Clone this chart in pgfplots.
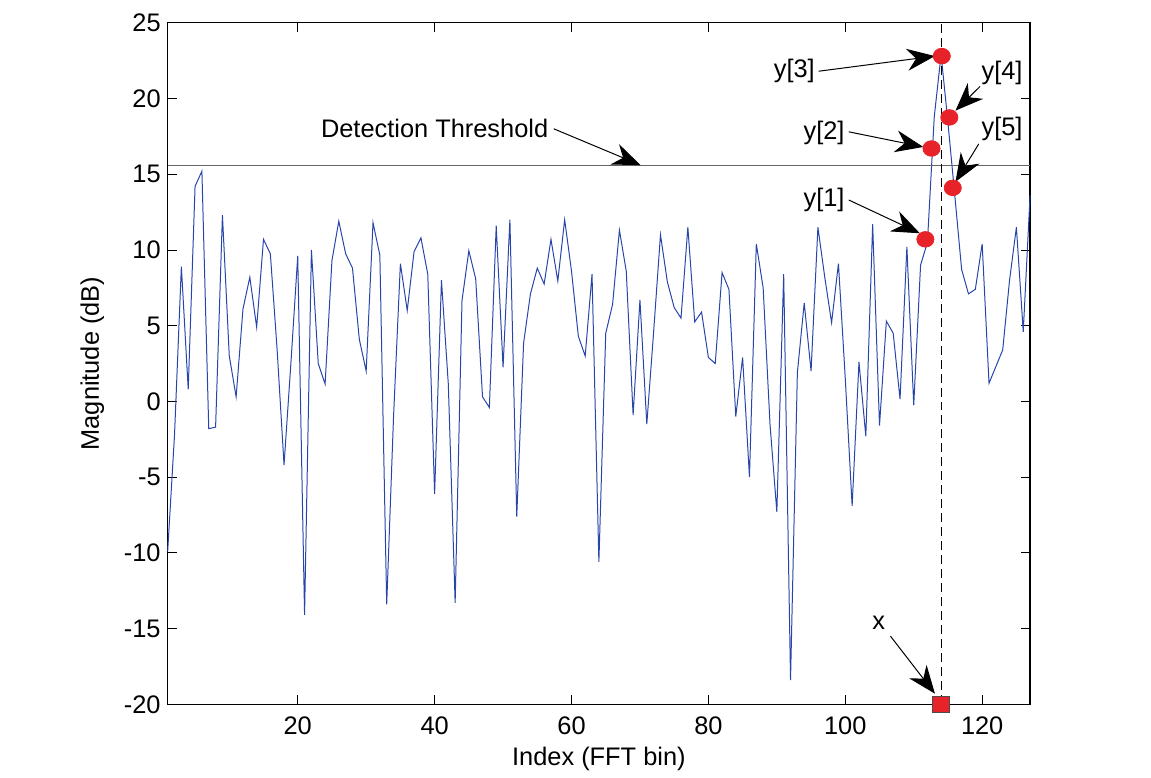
\documentclass[border=0pt]{standalone}
\usepackage{fontspec}
\setmainfont{Liberation Sans}
\usepackage{pgfplots}
\pgfplotsset{compat=1.18}
\usetikzlibrary{arrows.meta}
\definecolor{lineblue}{RGB}{40,70,170}
\definecolor{dotred}{RGB}{232,34,41}
\pgfplotstableread{
x y
1 -9.9
2 -2.2
3 8.9
4 0.8
5 14.2
6 15.2
7 -1.8
8 -1.7
9 12.3
10 3.0
11 0.3
12 6.1
13 8.2
14 4.9
15 10.7
16 9.75
17 3.35
18 -4.2
19 2.5
20 9.6
21 -14.1
22 10.0
23 2.5
24 1.15
25 9.3
26 11.9
27 9.75
28 8.8
29 4.1
30 2.0
31 11.8
32 9.65
33 -13.4
34 -1.0
35 9.1
36 6.0
37 9.9
38 10.8
39 8.4
40 -6.1
41 8.0
42 1.15
43 -13.3
44 6.65
45 9.95
46 8.1
47 0.3
48 -0.4
49 11.6
50 2.25
51 12.0
52 -7.6
53 3.85
54 7.1
55 8.8
56 7.75
57 10.7
58 7.95
59 12.0
60 8.6
61 4.3
62 3.0
63 8.4
64 -10.6
65 4.5
66 6.4
67 11.3
68 8.6
69 -0.9
70 6.7
71 -1.5
72 4.6
73 11.0
74 7.9
75 6.2
76 5.5
77 11.5
78 5.25
79 5.9
80 2.9
81 2.5
82 8.5
83 7.4
84 -1.0
85 2.9
86 -5.0
87 10.4
88 7.5
89 -1.5
90 -7.3
91 8.4
92 -18.4
93 1.9
94 6.5
95 2.0
96 11.5
97 8.2
98 5.2
99 9.1
100 1.5
101 -6.9
102 2.6
103 -2.3
104 11.7
105 -1.6
106 5.3
107 4.5
108 0.15
109 10.2
110 -0.25
111 9.0
112 10.5
113 18.8
114 22.9
115 18.4
116 13.6
117 8.7
118 7.1
119 7.4
120 10.4
121 1.2
122 2.3
123 3.4
124 8.0
125 11.5
126 4.6
127 13.6
}\spectrum
\begin{document}
\begin{tikzpicture}[font=\fontsize{12.7}{15}\selectfont,
  bigarrow/.style={line width=0.5pt, -{Stealth[length=14pt,width=11pt,inset=4.5pt]}}]
\begin{axis}[
  name=ax,
  scale only axis,
  width=431.5pt, height=341pt,
  xmin=1, xmax=127, ymin=-20, ymax=25,
  xtick={20,40,...,120},
  ytick={-20,-15,...,25},
  tick align=inside,
  major tick length=4.5pt,
  axis line style={line width=0.6pt},
  every tick/.style={black, line width=0.4pt},
  /pgf/number format/assume math mode=true,
  ticklabel style={font=\fontsize{12.7}{15}\selectfont},
  xticklabel style={yshift=-2.5pt},
  xlabel={Index (FFT bin)},
  ylabel={Magnitude (dB)},
  xlabel style={at={(axis description cs:0.5,-0.0528)}, anchor=north},
  ylabel style={at={(axis description cs:-0.0656,0.5)}, anchor=south, rotate=0},
  label style={font=\fontsize{12.7}{15}\selectfont},
  clip=false,
]
\addplot[lineblue, line width=0.5pt] table[x=x,y=y] {\spectrum};
\addplot[black!60, line width=0.6pt] coordinates {(1,15.55) (127,15.55)};
\addplot[black, line width=0.5pt, dash pattern=on 4.5pt off 2.5pt] coordinates {(114,-20) (114,25)};
\addplot[only marks, mark=*, mark size=3.9pt, color=dotred, mark options={draw=dotred, fill=dotred, xscale=1.1}]
  coordinates {(111.7,10.7) (112.6,16.7) (114.1,22.8) (115.2,18.75) (115.7,14.1)};
\addplot[only marks, mark=square*, mark size=4.2pt, mark options={fill=dotred, draw=black!70, line width=0.4pt}]
  coordinates {(114,-20)};
\node at (40.0,18.0) {Detection Threshold};
\draw[bigarrow] (57.4,18.0) -- (70.1,15.6);
\node at (92.55,21.8) {y[3]};
\draw[bigarrow] (96.1,21.8) -- (113.1,22.8);
\node at (122.9,21.7) {y[4]};
\draw[bigarrow] (119.7,20.8) -- (116.1,19.2);
\node at (96.9,17.7) {y[2]};
\draw[bigarrow] (100.5,17.8) -- (111.4,16.8);
\node at (122.9,18.0) {y[5]};
\draw[bigarrow] (119.5,17.0) -- (116.1,14.5);
\node at (96.9,13.3) {y[1]};
\draw[bigarrow] (100.5,13.3) -- (110.9,11.1);
\node at (104.9,-14.6) {x};
\draw[bigarrow] (106.6,-15.5) -- (113.1,-19.3);
\end{axis}
\path ([xshift=-83.9pt,yshift=-33.5pt]ax.south west) rectangle ([xshift=60.5pt,yshift=11.4pt]ax.north east);
\end{tikzpicture}
\end{document}
